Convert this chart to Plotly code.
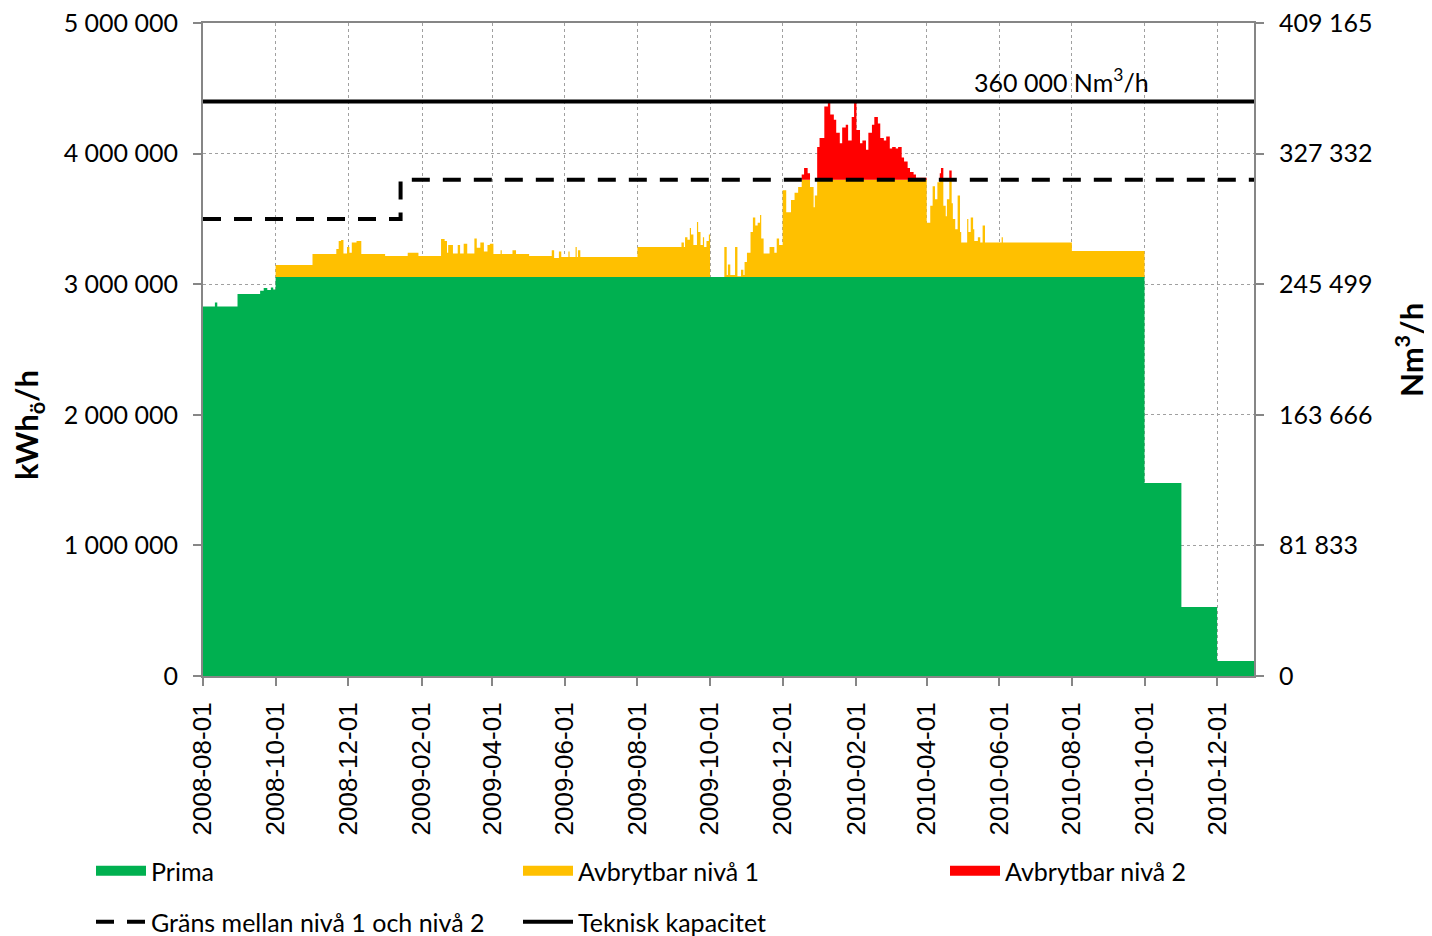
import plotly.graph_objects as go
import pandas as pd

# ---- data (kWh_ö/h), step values holding until the next date ----
dates = [
    "2008-08-01", "2008-08-11", "2008-08-13", "2008-08-30", "2008-09-18", "2008-09-21",
    "2008-09-24", "2008-09-27", "2008-09-29", "2008-10-01", "2008-11-01", "2008-11-21",
    "2008-11-23", "2008-11-25", "2008-11-27", "2008-11-30", "2008-12-02", "2008-12-04",
    "2008-12-08", "2008-12-12", "2009-01-01", "2009-01-20", "2009-01-29", "2009-02-17",
    "2009-02-20", "2009-02-22", "2009-02-23", "2009-02-27", "2009-03-03", "2009-03-05",
    "2009-03-08", "2009-03-11", "2009-03-17", "2009-03-19", "2009-03-22", "2009-03-25",
    "2009-03-28", "2009-03-30", "2009-04-02", "2009-04-08", "2009-04-09", "2009-04-18",
    "2009-04-21", "2009-05-02", "2009-05-21", "2009-05-23", "2009-05-27", "2009-05-29",
    "2009-06-04", "2009-06-05", "2009-06-10", "2009-06-11", "2009-06-12", "2009-06-14",
    "2009-08-01", "2009-09-07", "2009-09-09", "2009-09-10", "2009-09-12", "2009-09-14",
    "2009-09-15", "2009-09-17", "2009-09-20", "2009-09-21", "2009-09-23", "2009-09-25",
    "2009-09-26", "2009-09-28", "2009-09-30", "2009-10-01", "2009-10-13", "2009-10-15",
    "2009-10-16", "2009-10-18", "2009-10-22", "2009-10-24", "2009-10-27", "2009-10-29",
    "2009-10-30", "2009-11-01", "2009-11-04", "2009-11-06", "2009-11-08", "2009-11-10",
    "2009-11-12", "2009-11-13", "2009-11-15", "2009-11-20", "2009-11-24", "2009-11-26",
    "2009-11-28", "2009-12-01", "2009-12-04", "2009-12-08", "2009-12-11", "2009-12-14",
    "2009-12-17", "2009-12-19", "2009-12-22", "2009-12-24", "2009-12-27", "2009-12-28",
    "2009-12-30", "2010-01-01", "2010-01-05", "2010-01-08", "2010-01-10", "2010-01-13",
    "2010-01-15", "2010-01-18", "2010-01-20", "2010-01-23", "2010-01-25", "2010-01-28",
    "2010-01-30", "2010-02-01", "2010-02-04", "2010-02-06", "2010-02-09", "2010-02-11",
    "2010-02-14", "2010-02-16", "2010-02-19", "2010-02-21", "2010-02-24", "2010-02-26",
    "2010-03-01", "2010-03-03", "2010-03-06", "2010-03-08", "2010-03-11", "2010-03-13",
    "2010-03-16", "2010-03-18", "2010-03-21", "2010-03-23", "2010-04-01", "2010-04-04",
    "2010-04-06", "2010-04-08", "2010-04-10", "2010-04-12", "2010-04-13", "2010-04-15",
    "2010-04-17", "2010-04-18", "2010-04-20", "2010-04-22", "2010-04-23", "2010-04-25",
    "2010-04-27", "2010-04-29", "2010-04-30", "2010-05-05", "2010-05-06", "2010-05-08",
    "2010-05-10", "2010-05-11", "2010-05-14", "2010-05-16", "2010-05-18", "2010-05-20",
    "2010-06-03", "2010-06-04", "2010-08-01", "2010-10-01", "2010-11-01", "2010-12-01",
    "2011-01-01",
]

# Prima: early ramp, flat 3 055 000 from 2008-10-01 until 2010-10-01, then drops
prima = (
    [2830000, 2860000, 2830000, 2925000, 2950000, 2970000, 2955000, 2975000, 2960000]
    + [3055000] * 156
    + [1478000, 528000, 115000, 115000]
)

niva1 = [
    0, 0, 0, 0, 0, 0,
    0, 0, 0, 92000, 176000, 215000,
    275000, 283000, 180000, 230000, 185000, 265000,
    275000, 176000, 161000, 185000, 161000, 291000,
    275000, 185000, 245000, 181000, 245000, 181000,
    255000, 181000, 295000, 225000, 265000, 195000,
    245000, 255000, 176000, 205000, 176000, 205000,
    176000, 161000, 205000, 145000, 195000, 153000,
    195000, 153000, 230000, 153000, 205000, 153000,
    230000, 265000, 230000, 305000, 285000, 375000,
    325000, 245000, 421000, 345000, 245000, 305000,
    230000, 275000, 325000, 0, 230000, 15000,
    95000, 15000, 230000, 5000, 55000, 15000,
    115000, 185000, 345000, 455000, 395000, 415000,
    475000, 295000, 181000, 230000, 185000, 295000,
    245000, 665000, 495000, 590000, 645000, 690000,
    745000, 745000, 745000, 690000, 535000, 625000,
    745000, 745000, 745000, 745000, 745000, 745000,
    745000, 745000, 745000, 745000, 745000, 745000,
    745000, 745000, 745000, 745000, 745000, 745000,
    745000, 745000, 745000, 745000, 745000, 745000,
    745000, 745000, 745000, 745000, 745000, 745000,
    745000, 745000, 745000, 745000, 415000, 545000,
    695000, 595000, 725000, 745000, 745000, 545000,
    465000, 595000, 745000, 565000, 445000, 365000,
    625000, 345000, 265000, 445000, 345000, 455000,
    365000, 275000, 305000, 265000, 395000, 265000,
    305000, 265000, 200000, 0, 0, 0,
    0,
]

niva2 = (
    [0] * 96
    + [40000, 90000, 50000, 0, 0, 0,
       250000, 320000, 560000, 590000, 500000, 460000,
       360000, 280000, 400000, 420000, 300000, 480000,
       590000, 380000, 280000, 300000, 230000, 360000,
       420000, 480000, 430000, 320000, 300000, 330000,
       240000, 250000, 240000, 250000, 170000, 140000,
       90000, 60000, 40000, 15000, 0, 0,
       0, 0, 0, 50000, 90000, 0,
       0, 0, 70000, 0, 0, 0]
    + [0] * 19
)

grans_dates = ["2008-08-01", "2009-01-14", "2011-01-01"]
grans_values = [3500000, 3800000, 3800000]

teknisk_dates = ["2008-08-01", "2011-01-01"]
teknisk_nm3 = [360000, 360000]

left_ticks = [0, 1000000, 2000000, 3000000, 4000000, 5000000]
left_labels = ["0", "1 000 000", "2 000 000", "3 000 000", "4 000 000", "5 000 000"]
right_ticks = [0, 81833, 163666, 245499, 327332, 409165]
right_labels = ["0", "81 833", "163 666", "245 499", "327 332", "409 165"]
x_ticks = ["2008-08-01", "2008-10-01", "2008-12-01", "2009-02-01", "2009-04-01",
           "2009-06-01", "2009-08-01", "2009-10-01", "2009-12-01", "2010-02-01",
           "2010-04-01", "2010-06-01", "2010-08-01", "2010-10-01", "2010-12-01"]

df = pd.DataFrame({"date": pd.to_datetime(dates), "prima": prima,
                   "niva1": niva1, "niva2": niva2})
df["c1"] = df["prima"]
df["c2"] = df["c1"] + df["niva1"]
df["c3"] = df["c2"] + df["niva2"]

GREEN = "#00B050"
YELLOW = "#FFC000"
RED = "#FF0000"
FONT = "Lato"
FS = 25

# page has an 8 px body margin; figure is sized so it fills the window exactly
OFF = 8
W, H = 1432 - OFF, 936 - OFF

fig = go.Figure()
fig.add_trace(go.Scatter(x=df["date"], y=df["c1"], name="Prima", mode="lines",
                         line=dict(width=0, shape="hv"), fill="tozeroy",
                         fillcolor=GREEN, showlegend=False))
fig.add_trace(go.Scatter(x=df["date"], y=df["c2"], name="Avbrytbar nivå 1", mode="lines",
                         line=dict(width=0, shape="hv"), fill="tonexty",
                         fillcolor=YELLOW, showlegend=False))
fig.add_trace(go.Scatter(x=df["date"], y=df["c3"], name="Avbrytbar nivå 2", mode="lines",
                         line=dict(width=0, shape="hv"), fill="tonexty",
                         fillcolor=RED, showlegend=False))
fig.add_trace(go.Scatter(x=pd.to_datetime(grans_dates), y=grans_values,
                         name="Gräns mellan nivå 1 och nivå 2", mode="lines",
                         line=dict(color="black", width=4, dash="18px,13px", shape="hv"),
                         legend="legend4"))
fig.add_trace(go.Scatter(x=pd.to_datetime(teknisk_dates), y=teknisk_nm3,
                         name="Teknisk kapacitet", mode="lines", yaxis="y2",
                         line=dict(color="black", width=4), legend="legend5"))

# legend swatches for the filled areas (no data, legend only)
for nm, col, lg in [("Prima", GREEN, "legend"), ("Avbrytbar nivå 1", YELLOW, "legend2"),
                    ("Avbrytbar nivå 2", RED, "legend3")]:
    fig.add_trace(go.Scatter(x=[None], y=[None], mode="lines", name=nm,
                             line=dict(color=col, width=14), legend=lg,
                             hoverinfo="skip"))

axis_gray = "#868686"
grid_gray = "#A0A0A0"


def leg(xpx, ycen):
    return dict(orientation="h", xref="container", yref="container",
                x=(xpx - OFF) / W, xanchor="left", y=1 - (ycen - OFF) / H,
                yanchor="middle", itemwidth=50,
                font=dict(family=FONT, size=FS, color="black"),
                bgcolor="rgba(0,0,0,0)", borderwidth=0)


fig.update_layout(
    width=W, height=H,
    margin=dict(l=203 - OFF, r=W - (1254 - OFF), t=23 - OFF, b=H - (676 - OFF),
                autoexpand=False),
    plot_bgcolor="white", paper_bgcolor="white",
    font=dict(family=FONT, size=FS, color="black"),
    xaxis=dict(type="date", range=["2008-08-01", "2011-01-01"],
               tickvals=x_ticks, ticktext=x_ticks, tickangle=-90,
               tickfont=dict(family="Liberation Sans", size=26, color="black"),
               showgrid=True, gridcolor=grid_gray, griddash="dot", gridwidth=1,
               showline=True, mirror=True, linecolor=axis_gray, linewidth=2,
               ticks="outside", ticklen=8, tickcolor=axis_gray, tickwidth=2,
               ticklabelstandoff=6, ticklabeloverflow="allow",
               zeroline=False, automargin=False),
    yaxis=dict(range=[0, 5000000], tickvals=left_ticks, ticktext=left_labels,
               tickfont=dict(family=FONT, size=FS, color="black"),
               showgrid=True, gridcolor=grid_gray, griddash="dot", gridwidth=1,
               showline=True, linecolor=axis_gray, linewidth=2,
               ticks="outside", ticklen=8, tickcolor=axis_gray, tickwidth=2,
               ticklabelstandoff=10, ticklabeloverflow="allow",
               zeroline=False, automargin=False),
    yaxis2=dict(range=[0, 409165], overlaying="y", side="right",
                tickvals=right_ticks, ticktext=right_labels,
                tickfont=dict(family=FONT, size=FS, color="black"),
                showgrid=False, showline=True, linecolor=axis_gray, linewidth=2,
                ticks="outside", ticklen=8, tickcolor=axis_gray, tickwidth=2,
                ticklabelstandoff=10, ticklabeloverflow="allow",
                zeroline=False, automargin=False),
    legend=leg(91, 871),
    legend2=leg(518, 871),
    legend3=leg(945, 871),
    legend4=leg(91, 922),
    legend5=leg(518, 922),
    showlegend=True,
)

fig.add_annotation(x="2010-07-23", y=4399000, xref="x", yref="y",
                   text="360 000 Nm<sup>3</sup>/h", showarrow=False,
                   xanchor="center", yanchor="bottom", yshift=2,
                   font=dict(family=FONT, size=FS, color="black"))
fig.add_annotation(x=(28 - 203) / 1051, y=(676 - 425) / 653, xref="paper", yref="paper",
                   text="<b>kWh<sub>ö</sub>/h</b>", textangle=-90, showarrow=False,
                   xanchor="center", yanchor="middle",
                   font=dict(family=FONT, size=31, color="black"))
fig.add_annotation(x=(1410 - 203) / 1051, y=(676 - 350) / 653, xref="paper", yref="paper",
                   text="<b>Nm<sup>3</sup>/h</b>", textangle=-90, showarrow=False,
                   xanchor="center", yanchor="middle",
                   font=dict(family=FONT, size=31, color="black"))

fig.write_html("out.html")
